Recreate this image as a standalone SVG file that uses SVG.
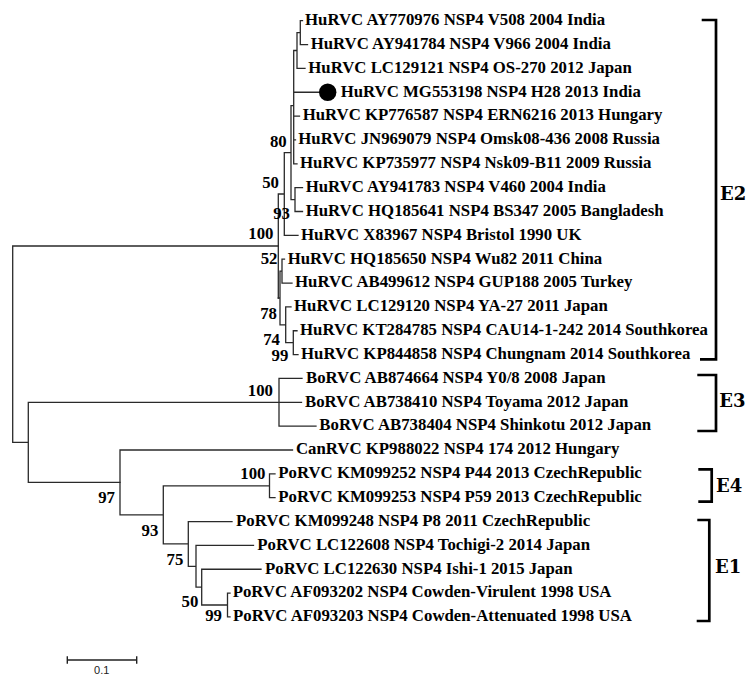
<svg xmlns="http://www.w3.org/2000/svg" width="749" height="675" viewBox="0 0 749 675">
<style>
.t{font-family:"Liberation Serif","Times New Roman",serif;font-weight:bold;font-size:16.8px;fill:#000}
.b{font-family:"Liberation Serif","Times New Roman",serif;font-weight:bold;font-size:16.8px;fill:#000;text-anchor:end}
.e{stroke:#2a2a2a;stroke-width:1.3;fill:none;stroke-linecap:square}
.br{stroke:#000;stroke-width:2.7;fill:none}
.cl{font-family:"DejaVu Serif",serif;font-weight:bold;font-size:18px;fill:#000}
.sc{font-family:"Liberation Sans",Arial,sans-serif;font-size:11px;fill:#222;text-anchor:middle}
</style>
<rect width="749" height="675" fill="#fff"/>
<g id="connectors" class="e">
<path d="M12.7,246 V442.4 M12.7,246 H278.3 M12.7,442.4 H28.3 M28.3,402.3 V482.4 M28.3,402.3 H301.5 M28.3,482.4 H120"/>
<path d="M278.3,194 V298 M278.3,194 H284.3 M284.3,152.6 V235.35 M284.3,235.35 H298 M284.3,152.6 H291 M291,105.7 V199.6 M291,199.6 H295 M291,105.7 H293.7 M295,187.65 V211.5 M295,187.65 H302.5 M295,211.5 H302.5 M293.7,50.5 V163.8 M293.7,50.5 H297 M297,32.6 V68.4 M297,68.4 H305 M297,32.6 H300.3 M300.3,20.7 V44.55 M300.3,20.7 H302.5 M300.3,44.55 H307.5 M293.7,92.25 H319 M293.7,116.1 H299.5 M293.7,139.95 H295.5 M293.7,163.8 H297"/>
<path d="M278.3,298 H280 M280,271.1 V324.8 M280,271.1 H282 M282,259.2 V283.05 M282,259.2 H284.5 M282,283.05 H292 M280,324.8 H285.7 M285.7,306.9 V342.7 M285.7,306.9 H291 M285.7,342.7 H293.3 M293.3,330.75 V354.6 M293.3,330.75 H297 M293.3,354.6 H298"/>
<path d="M279,378.45 V426.15 M279,378.45 H302 M279,426.15 H316"/>
<path d="M120,450 V514.9 M120,450 H292.5 M120,514.9 H163.3 M163.3,485.8 V543.9 M163.3,485.8 H269.5 M163.3,543.9 H188.3 M269.5,473.85 V497.7 M269.5,473.85 H275 M269.5,497.7 H275 M188.3,521.55 V566.3 M188.3,521.55 H232 M188.3,566.3 H196 M196,545.4 V587.1 M196,545.4 H253.5 M196,587.1 H201.7 M201.7,569.25 V605 M201.7,569.25 H261 M201.7,605 H227.5 M227.5,593.1 V616.95 M227.5,593.1 H230 M227.5,616.95 H230"/>
</g>
<g id="leaf1"><text class="t" x="305" y="25">HuRVC AY770976 NSP4 V508 2004 India</text></g>
<g id="leaf2"><text class="t" x="310.7" y="48.85">HuRVC AY941784 NSP4 V966 2004 India</text></g>
<g id="leaf3"><text class="t" x="308.3" y="72.7">HuRVC LC129121 NSP4 OS-270 2012 Japan</text></g>
<g id="leaf4"><circle cx="327.7" cy="92.25" r="8.7" fill="#000"/><text class="t" x="340.7" y="96.55">HuRVC MG553198 NSP4 H28 2013 India</text></g>
<g id="leaf5"><text class="t" x="302.7" y="120.4">HuRVC KP776587 NSP4 ERN6216 2013 Hungary</text></g>
<g id="leaf6"><text class="t" x="298.3" y="144.25">HuRVC JN969079 NSP4 Omsk08-436 2008 Russia</text></g>
<g id="leaf7"><text class="t" x="300" y="168.1">HuRVC KP735977 NSP4 Nsk09-B11 2009 Russia</text></g>
<g id="leaf8"><text class="t" x="305.7" y="191.95">HuRVC AY941783 NSP4 V460 2004 India</text></g>
<g id="leaf9"><text class="t" x="305.7" y="215.8">HuRVC HQ185641 NSP4 BS347 2005 Bangladesh</text></g>
<g id="leaf10"><text class="t" x="301" y="239.65">HuRVC X83967 NSP4 Bristol 1990 UK</text></g>
<g id="leaf11"><text class="t" x="287.7" y="263.5">HuRVC HQ185650 NSP4 Wu82 2011 China</text></g>
<g id="leaf12"><text class="t" x="295" y="287.35">HuRVC AB499612 NSP4 GUP188 2005 Turkey</text></g>
<g id="leaf13"><text class="t" x="294" y="311.2">HuRVC LC129120 NSP4 YA-27 2011 Japan</text></g>
<g id="leaf14"><text class="t" x="300" y="335.05">HuRVC KT284785 NSP4 CAU14-1-242 2014 Southkorea</text></g>
<g id="leaf15"><text class="t" x="301" y="358.9">HuRVC KP844858 NSP4 Chungnam 2014 Southkorea</text></g>
<g id="leaf16"><text class="t" x="306" y="382.75">BoRVC AB874664 NSP4 Y0/8 2008 Japan</text></g>
<g id="leaf17"><text class="t" x="305" y="406.6">BoRVC AB738410 NSP4 Toyama 2012 Japan</text></g>
<g id="leaf18"><text class="t" x="319.3" y="430.45">BoRVC AB738404 NSP4 Shinkotu 2012 Japan</text></g>
<g id="leaf19"><text class="t" x="296" y="454.3">CanRVC KP988022 NSP4 174 2012 Hungary</text></g>
<g id="leaf20"><text class="t" x="278.3" y="478.15">PoRVC KM099252 NSP4 P44 2013 CzechRepublic</text></g>
<g id="leaf21"><text class="t" x="278.3" y="502">PoRVC KM099253 NSP4 P59 2013 CzechRepublic</text></g>
<g id="leaf22"><text class="t" x="236" y="525.85">PoRVC KM099248 NSP4 P8 2011 CzechRepublic</text></g>
<g id="leaf23"><text class="t" x="257.3" y="549.7">PoRVC LC122608 NSP4 Tochigi-2 2014 Japan</text></g>
<g id="leaf24"><text class="t" x="265" y="573.55">PoRVC LC122630 NSP4 Ishi-1 2015 Japan</text></g>
<g id="leaf25"><text class="t" x="232.7" y="597.4">PoRVC AF093202 NSP4 Cowden-Virulent 1998 USA</text></g>
<g id="leaf26"><text class="t" x="233" y="621.25">PoRVC AF093203 NSP4 Cowden-Attenuated 1998 USA</text></g>
<g id="bootstrap">
<text class="b" x="286.7" y="146.8">80</text>
<text class="b" x="279" y="187.8">50</text>
<text class="b" x="290" y="218.8">93</text>
<text class="b" x="273.5" y="238.8">100</text>
<text class="b" x="277.5" y="263.8">52</text>
<text class="b" x="277" y="318.5">78</text>
<text class="b" x="280" y="345.3">74</text>
<text class="b" x="288.3" y="361.3">99</text>
<text class="b" x="273" y="395.8">100</text>
<text class="b" x="265.5" y="479.1">100</text>
<text class="b" x="115" y="502.5">97</text>
<text class="b" x="158.3" y="535.8">93</text>
<text class="b" x="183.3" y="564.8">75</text>
<text class="b" x="198.3" y="607">50</text>
<text class="b" x="222" y="620.8">99</text>
</g>
<g id="clade-E2"><path class="br" d="M701.7,20 H716 V359.3 H700"/><text class="cl" x="720" y="199.8">E2</text></g>
<g id="clade-E3"><path class="br" d="M697.3,375 H716 V431 H697.3"/><text class="cl" x="719.3" y="406.5">E3</text></g>
<g id="clade-E4"><path class="br" d="M698.3,469.3 H711.7 V501.7 H698.3"/><text class="cl" x="716" y="491.5">E4</text></g>
<g id="clade-E1"><path class="br" d="M697.3,520 H709.3 V621 H696.7"/><text class="cl" x="715" y="573">E1</text></g>
<g id="scalebar">
<path d="M67.3,660 H136.7 M67.3,656.3 V663.7 M136.7,656.3 V663.7" stroke="#222" stroke-width="1.4" fill="none"/>
<text class="sc" x="101.7" y="673.5">0.1</text>
</g>
</svg>
